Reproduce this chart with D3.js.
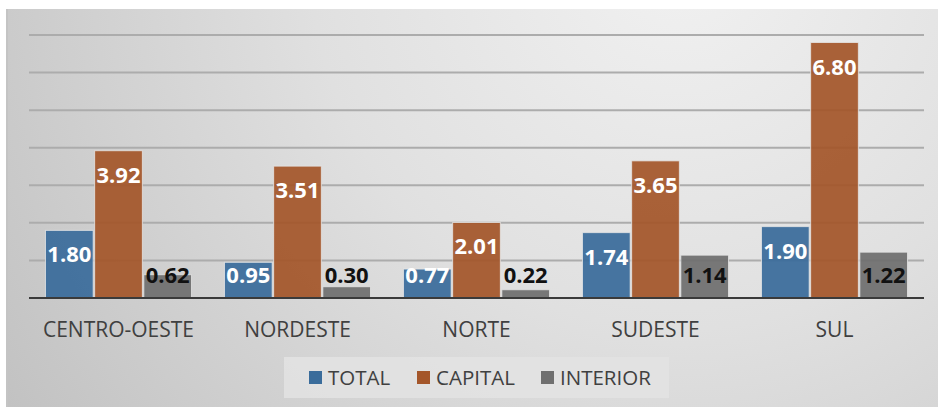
<!DOCTYPE html>
<html>
<head>
<meta charset="utf-8">
<script src="https://cdn.jsdelivr.net/npm/d3@7"></script>
<style>
  html, body { margin: 0; padding: 0; background: #fff; }
  svg { display: block; }
</style>
</head>
<body>
<svg id="chart" width="938" height="407"></svg>
<script>
// chart values
var categories = ["CENTRO-OESTE", "NORDESTE", "NORTE", "SUDESTE", "SUL"];
var seriesNames = ["TOTAL", "CAPITAL", "INTERIOR"];
var totalValues = [1.80, 0.95, 0.77, 1.74, 1.90];
var capitalValues = [3.92, 3.51, 2.01, 3.65, 6.80];
var interiorValues = [0.62, 0.30, 0.22, 1.14, 1.22];
var yTicks = [0, 1, 2, 3, 4, 5, 6, 7];

var colors = { "TOTAL": "#3a6c9b", "CAPITAL": "#a4562a", "INTERIOR": "#6f6f6f" };
var labelColors = { "TOTAL": "#ffffff", "CAPITAL": "#ffffff", "INTERIOR": "#111111" };
var valuesBySeries = { "TOTAL": totalValues, "CAPITAL": capitalValues, "INTERIOR": interiorValues };

var svg = d3.select("#chart");
var font = "'Open Sans', 'Liberation Sans', sans-serif";

// background with radial gradient
var defs = svg.append("defs");
var grad = defs.append("radialGradient")
  .attr("id", "bg")
  .attr("gradientUnits", "userSpaceOnUse")
  .attr("cx", 680).attr("cy", -40).attr("r", 820);
grad.append("stop").attr("offset", "0%").attr("stop-color", "#f1f1f1");
grad.append("stop").attr("offset", "45%").attr("stop-color", "#e0e0e0");
grad.append("stop").attr("offset", "100%").attr("stop-color", "#c1c1c1");

svg.append("rect")
  .attr("x", 6).attr("y", 9).attr("width", 932).attr("height", 398)
  .attr("fill", "url(#bg)");
svg.append("rect")
  .attr("x", 6).attr("y", 9).attr("width", 2).attr("height", 398)
  .attr("fill", "#c4c4c4");

var plotLeft = 29, plotRight = 924;

var y = d3.scaleLinear().domain([0, 7]).range([298, 35]);

var x0 = d3.scaleBand()
  .domain(categories)
  .range([plotLeft, plotRight])
  .paddingInner(0.184)
  .paddingOuter(0.092);

var x1 = d3.scaleBand()
  .domain(seriesNames)
  .range([0, x0.bandwidth()])
  .paddingInner(0.03);

// gridlines
svg.append("g")
  .selectAll("line")
  .data(yTicks.filter(function(d){ return d > 0; }))
  .enter().append("line")
  .attr("x1", plotLeft).attr("x2", plotRight)
  .attr("y1", function(d){ return y(d); })
  .attr("y2", function(d){ return y(d); })
  .attr("stroke", "#acacac")
  .attr("stroke-width", 2);

// bars
var rows = [];
categories.forEach(function(c, i){
  seriesNames.forEach(function(s){
    rows.push({ cat: c, series: s, value: valuesBySeries[s][i] });
  });
});

var bars = svg.append("g");
bars.selectAll("rect")
  .data(rows)
  .enter().append("rect")
  .attr("x", function(d){ return x0(d.cat) + x1(d.series); })
  .attr("y", function(d){ return y(d.value); })
  .attr("width", x1.bandwidth())
  .attr("height", function(d){ return y(0) - y(d.value); })
  .attr("fill", function(d){ return colors[d.series]; })
  .attr("fill-opacity", 0.93)
  .attr("stroke", "#e6e6e6")
  .attr("stroke-opacity", 0.8)
  .attr("stroke-width", 1);

// value labels (inside end, pushed up for short bars)
bars.selectAll("text")
  .data(rows)
  .enter().append("text")
  .attr("x", function(d){ return x0(d.cat) + x1(d.series) + x1.bandwidth() / 2; })
  .attr("y", function(d){ return Math.min(y(d.value) + 32, 283); })
  .attr("text-anchor", "middle")
  .attr("font-family", font)
  .attr("font-weight", "bold")
  .attr("font-size", "22px")
  .attr("fill", function(d){ return labelColors[d.series]; })
  .text(function(d){ return d.value.toFixed(2); });

// x axis
svg.append("line")
  .attr("x1", plotLeft).attr("x2", plotRight)
  .attr("y1", y(0)).attr("y2", y(0))
  .attr("stroke", "#3a3a3a")
  .attr("stroke-width", 2);

var xAxis = svg.append("g")
  .attr("transform", "translate(0," + y(0) + ")")
  .call(d3.axisBottom(x0).tickSize(0).tickPadding(24));
xAxis.select(".domain").remove();
xAxis.selectAll("text")
  .attr("font-family", font)
  .attr("font-size", "21px")
  .attr("fill", "#404040");

// legend
var legend = svg.append("g");
legend.append("rect")
  .attr("x", 284).attr("y", 357).attr("width", 385).attr("height", 41)
  .attr("fill", "#e3e3e3").attr("fill-opacity", 0.85);

var legendX = [309, 417, 541];
seriesNames.forEach(function(s, i){
  legend.append("rect")
    .attr("x", legendX[i]).attr("y", 371)
    .attr("width", 13).attr("height", 13)
    .attr("fill", colors[s]);
  legend.append("text")
    .attr("x", legendX[i] + 19).attr("y", 385)
    .attr("font-family", font)
    .attr("font-size", "20.5px")
    .attr("fill", "#404040")
    .text(s);
});
</script>
</body>
</html>
